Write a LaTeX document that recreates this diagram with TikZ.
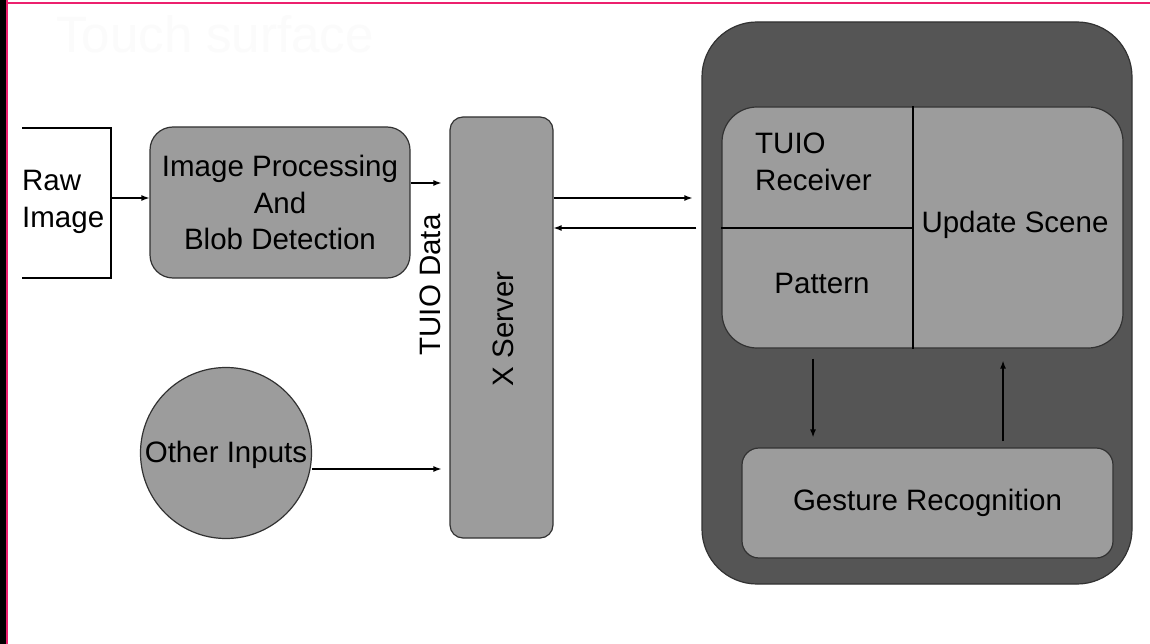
\documentclass[tikz,border=0pt]{standalone}
\usepackage{fontspec}
\setmainfont{Liberation Sans}
\usetikzlibrary{arrows.meta}
\definecolor{edgepink}{RGB}{236,32,110}
\definecolor{boxgray}{RGB}{156,156,156}
\definecolor{panelgray}{RGB}{85,85,85}
\definecolor{rimgray}{RGB}{50,50,50}
\definecolor{ghost}{RGB}{251,251,251}
\tikzset{
  lbl/.style={font=\fontsize{29.5}{36.5}\selectfont, text=black},
  box/.style={draw=rimgray, line width=1.2pt, fill=boxgray, rectangle, inner sep=0pt, lbl},
  arr/.style={-{Latex[length=8pt,width=6pt]}, line width=1.3pt, black},
  wire/.style={line width=1.3pt, black}
}
\begin{document}
\begin{tikzpicture}[x=1pt, y=-1pt]
  % page frame
  \useasboundingbox (0,0) rectangle (1150,644);
  \fill[white] (0,0) rectangle (1150,644);
  \fill[black] (0,0) rectangle (6,644);
  \fill[edgepink] (6,0) rectangle (8,644);
  \fill[edgepink] (6,2) rectangle (1150,4);

  % faint title
  \node[font=\fontsize{51}{60}\selectfont, text=ghost] (title) at (215,34) {Touch surface};

  % raw image source
  \coordinate (rawtop) at (22,128);
  \coordinate (rawcorner) at (111,128);
  \coordinate (rawbot) at (111,278);
  \coordinate (rawend) at (22,278);
  \coordinate (rawout) at (111,198);
  \draw[wire] (rawtop) -- (rawcorner) -- (rawbot) -- (rawend);
  \node[lbl, anchor=west, align=left, inner sep=0pt] (raw) at (22,202) {Raw\\Image};

  % processing chain
  \node[box, rounded corners=23pt, minimum width=260pt, minimum height=151pt, align=center]
    (ip) at (280,202.5) {Image Processing\\And\\Blob Detection};
  \node[box, rounded corners=13pt, minimum width=103pt, minimum height=421pt]
    (xs) at (501.5,327.5) {};
  \node[lbl, rotate=90] (xslabel) at (503,329) {X Server};
  \node[lbl, rotate=90] (tuio) at (430,285) {TUIO Data};
  \node[box, circle, minimum size=171pt] (oi) at (226,453) {};
  \node[lbl, inner sep=0pt] (oilabel) at (226,455) {Other Inputs};

  % application panel
  \node[draw=rimgray, line width=1.2pt, fill=panelgray, rectangle, rounded corners=55pt,
        minimum width=430pt, minimum height=562pt] (panel) at (917,303) {};
  \node[box, rounded corners=35pt, minimum width=401pt, minimum height=241pt]
    (inner) at (922.5,227.5) {};
  \coordinate (splitx) at (913,0);
  \coordinate (splity) at (0,228);
  \draw[wire, line width=1.1pt] (inner.north -| splitx) -- (inner.south -| splitx);
  \draw[wire, line width=1.1pt] (inner.west |- splity) -- (splitx |- splity);
  \node[lbl, anchor=west, align=left, inner sep=0pt] (recv) at (755,162) {TUIO\\Receiver};
  \node[lbl, inner sep=0pt] (pattern) at (822,283) {Pattern};
  \node[lbl, inner sep=0pt] (scene) at (1015,225) {Update Scene};
  \node[box, rounded corners=17pt, minimum width=371pt, minimum height=110pt]
    (gr) at (927.5,503) {Gesture Recognition};

  % connectors
  \draw[arr] (rawout) -- (ip.west |- rawout);
  \coordinate (ipout) at (0,183);
  \draw[arr, shorten >=8pt] (ip.east |- ipout) -- (xs.west |- ipout);
  \coordinate (oiout) at (0,469);
  \draw[arr, shorten >=8pt] (oi.east |- oiout) -- (xs.west |- oiout);
  \coordinate (fwd) at (0,198);
  \coordinate (back) at (0,228);
  \draw[arr, shorten >=9pt] (xs.east |- fwd) -- (panel.west |- fwd);
  \draw[arr, shorten <=5pt] (panel.west |- back) -- (xs.east |- back);
  \coordinate (downx) at (813,0);
  \coordinate (upx) at (1003,0);
  \draw[arr, shorten <=10pt, shorten >=10pt] (inner.south -| downx) -- (gr.north -| downx);
  \draw[arr, shorten <=6pt, shorten >=12pt] (gr.north -| upx) -- (inner.south -| upx);
\end{tikzpicture}
\end{document}
